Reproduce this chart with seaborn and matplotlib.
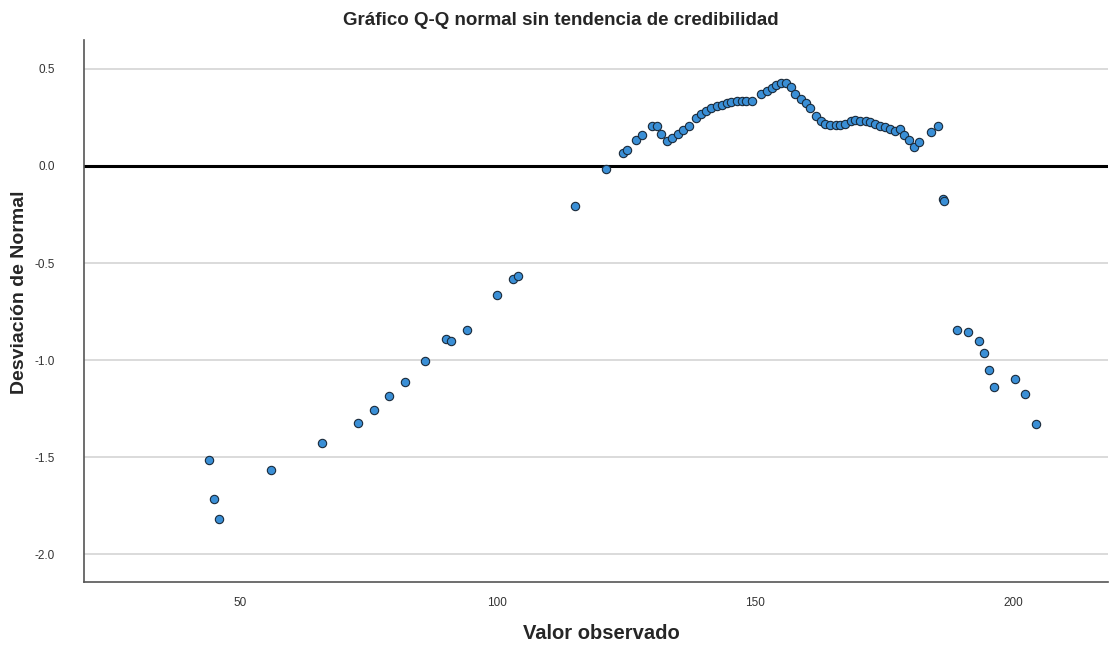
import numpy as np
import pandas as pd
import matplotlib
matplotlib.use("Agg")
import matplotlib.pyplot as plt
import seaborn as sns

observed = [
    44, 45, 46, 56, 66, 73, 76, 79, 82, 86, 90, 91, 94, 100, 103, 104,
    115, 121, 124.3, 125.1, 126.8, 128, 129.9, 130.9, 131.7, 132.9, 133.8,
    135, 136, 137.1, 138.5, 139.4, 140.4, 141.4, 142.5, 143.5, 144.5, 145.4,
    146.4, 147.4, 148.3, 149.3, 151.2, 152.2, 153.2, 154.1, 155.1, 155.9,
    156.9, 157.8, 158.8, 159.8, 160.7, 161.7, 162.7, 163.6, 164.6, 165.6,
    166.5, 167.5, 168.5, 169.4, 170.4, 171.4, 172.3, 173.3, 174.3, 175.2,
    176.2, 177.2, 178.1, 178.9, 179.9, 180.9, 181.7, 184.1, 185.4, 186.5,
    186.6, 189.2, 191.3, 193.4, 194.4, 195.4, 196.3, 200.4, 202.4, 204.4,
]
deviation = [
    -1.517, -1.715, -1.82, -1.569, -1.425, -1.322, -1.255, -1.187, -1.113,
    -1.004, -0.889, -0.903, -0.846, -0.666, -0.582, -0.569,
    -0.206, -0.015, 0.067, 0.082, 0.134, 0.159, 0.206, 0.206, 0.164, 0.128,
    0.144, 0.164, 0.185, 0.206, 0.247, 0.267, 0.283, 0.298, 0.308, 0.313,
    0.324, 0.329, 0.334, 0.334, 0.334, 0.334, 0.37, 0.385, 0.40, 0.416,
    0.427, 0.427, 0.406, 0.37, 0.344, 0.324, 0.298, 0.257, 0.231, 0.216,
    0.211, 0.211, 0.211, 0.216, 0.231, 0.236, 0.231, 0.231, 0.226, 0.216,
    0.206, 0.20, 0.19, 0.18, 0.19, 0.159, 0.134, 0.098, 0.123, 0.176, 0.206,
    -0.171, -0.178, -0.843, -0.853, -0.901, -0.963, -1.053, -1.141, -1.10,
    -1.173, -1.332,
]

x_ticks = [50, 100, 150, 200]
y_ticks = [0.5, 0.0, -0.5, -1.0, -1.5, -2.0]

df = pd.DataFrame({"Valor observado": observed, "Desviación de Normal": deviation})

sns.set_style("white")
plt.rcParams['font.family'] = ['Liberation Sans', 'DejaVu Sans']

fig = plt.figure(figsize=(11.1, 6.46), dpi=100)
ax = fig.add_axes([0.0757, 0.099, 0.9223, 0.839])

# gridlines and reference line
for yv in y_ticks:
    ax.axhline(yv, color="#d4d4d4", lw=1.2, zorder=0)
ax.axhline(0, color="black", lw=2.2, zorder=1)

sns.scatterplot(data=df, x="Valor observado", y="Desviación de Normal", ax=ax,
                color="#3a8fd6", edgecolor="#1a2a3a", linewidth=0.8, s=36,
                zorder=3)

ax.set_xlim(19.8, 218.4)
ax.set_ylim(-2.144, 0.649)
ax.set_xticks(x_ticks)
ax.set_yticks(y_ticks)
ax.set_xticklabels([str(v) for v in x_ticks])
ax.set_yticklabels([f"{v:.1f}" for v in y_ticks])
ax.tick_params(axis="both", length=0, labelsize=8.5, colors="#333333")
ax.tick_params(axis="y", pad=21)
ax.tick_params(axis="x", pad=11)

for side in ["top", "right"]:
    ax.spines[side].set_visible(False)
for side in ["left", "bottom"]:
    ax.spines[side].set_color("#555555")
    ax.spines[side].set_linewidth(1.2)

ax.set_xlabel("Valor observado", fontsize=14.5, fontweight="bold")
ax.xaxis.set_label_coords(0.505, -0.077)
ax.set_ylabel("")
fig.text(0.018, 0.548, "Desviación de Normal", rotation=90,
         ha="center", va="center", fontsize=14, fontweight="bold", color="#262626")
fig.text(0.505, 0.969, "Gráfico Q-Q normal sin tendencia de credibilidad",
         ha="center", va="center", fontsize=13.5, fontweight="bold", color="#262626")

fig.savefig("out.png", dpi=100)
